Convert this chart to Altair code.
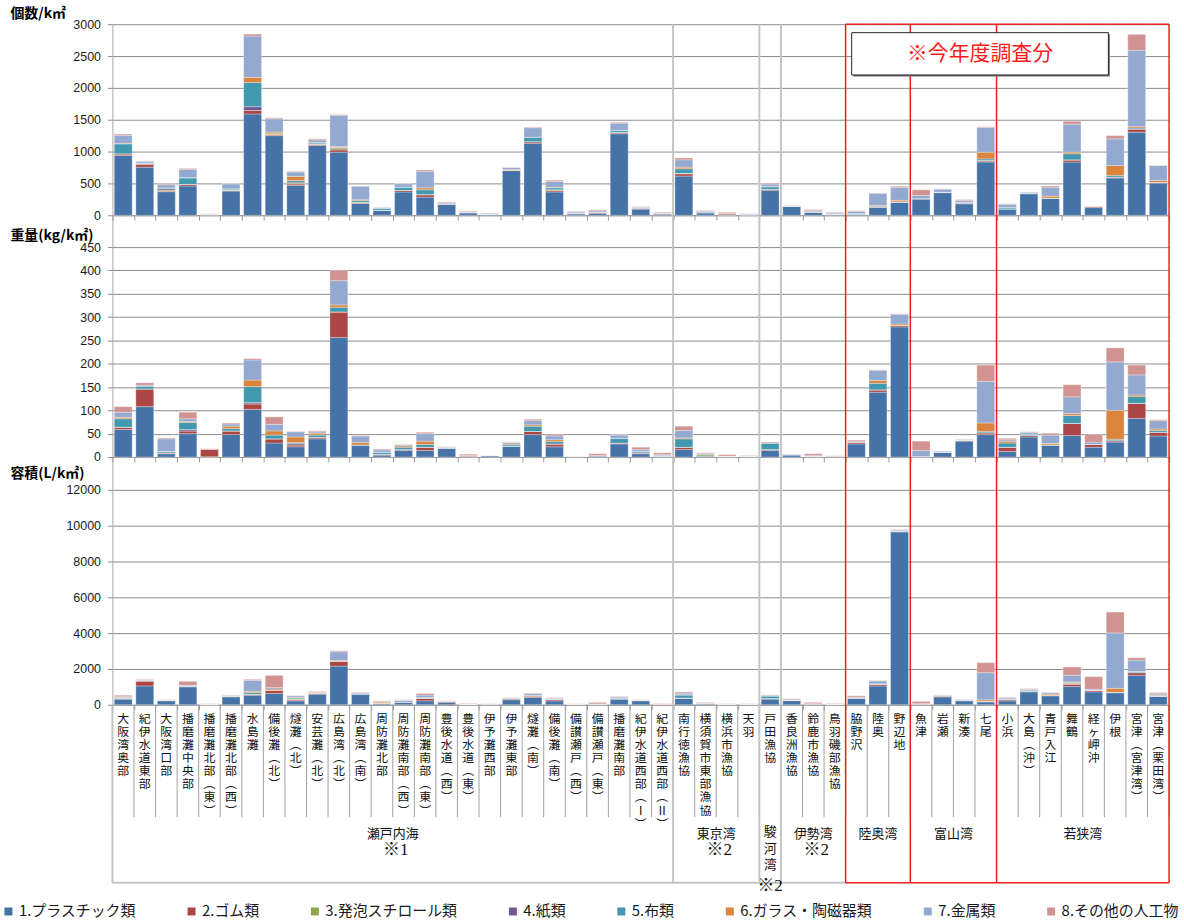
import altair as alt
import pandas as pd

JP = "Noto Sans CJK JP"
NUM = "Liberation Sans"
RED = "#f01c1c"
SEP_GRAY = "#c4c4c4"

# survey sites, left to right
categories = [
    "大阪湾奥部", "紀伊水道東部", "大阪湾口部", "播磨灘中央部", "播磨灘北部(東)", "播磨灘北部(西)",
    "水島灘", "備後灘(北)", "燧灘(北)", "安芸灘(北)", "広島湾(北)", "広島湾(南)", "周防灘北部",
    "周防灘南部(西)", "周防灘南部(東)", "豊後水道(西)", "豊後水道(東)", "伊予灘西部", "伊予灘東部",
    "燧灘(南)", "備後灘(南)", "備讃瀬戸(西)", "備讃瀬戸(東)", "播磨灘南部", "紀伊水道西部(Ⅰ)",
    "紀伊水道西部(Ⅱ)",
    "南行徳漁協", "横須賀市東部漁協", "横浜市漁協", "天羽",
    "戸田漁協",
    "香良洲漁協", "鈴鹿市漁協", "鳥羽磯部漁協",
    "脇野沢", "陸奥", "野辺地",
    "魚津", "岩瀬", "新湊", "七尾",
    "小浜", "大島(沖)", "青戸入江", "舞鶴", "経ヶ岬沖", "伊根", "宮津(宮津湾)", "宮津(栗田湾)",
]

group_names = ["瀬戸内海", "東京湾", "駿河湾", "伊勢湾", "陸奥湾", "富山湾", "若狭湾"]
group_sizes = [26, 4, 1, 3, 3, 4, 8]
group_notes = ["※1", "※2", "※2", "※2", "", "", ""]
group_this_year = [False, False, False, False, True, True, True]

item_types = ["1.プラスチック類", "2.ゴム類", "3.発泡スチロール類", "4.紙類", "5.布類",
              "6.ガラス・陶磁器類", "7.金属類", "8.その他の人工物"]
item_colors = ["#4572A7", "#AA4643", "#89A54E", "#71588F", "#4198AF", "#DB843D", "#93A9CF", "#D19392"]

# 個数 (items / km2)
count_plastic = [940, 755, 370, 460, 5, 380, 1590, 1250, 470, 1095, 990, 185, 75, 365, 285, 170, 40, 15, 705, 1130,
                 365, 20, 30, 1280, 95, 15, 615, 40, 5, 5, 390, 145, 45, 10, 20, 130, 205, 260, 355, 180,
                 835, 100, 340, 270, 835, 120, 585, 1305, 505]
count_rubber = [25, 45, 10, 25, 10, 8, 55, 15, 20, 15, 35, 10, 5, 25, 35, 10, 0, 0, 0, 25,
                20, 10, 20, 15, 15, 15, 35, 0, 20, 5, 15, 0, 0, 10, 0, 0, 5, 0, 5, 10,
                15, 0, 0, 0, 35, 20, 15, 50, 10]
count_styrofoam = [0, 0, 15, 0, 0, 10, 0, 15, 15, 10, 25, 10, 0, 0, 5, 0, 0, 0, 0, 0,
                   15, 0, 0, 10, 0, 0, 10, 0, 0, 0, 0, 0, 0, 0, 0, 0, 0, 0, 0, 0,
                   10, 0, 0, 0, 0, 0, 0, 0, 0]
count_paper = [0, 10, 20, 0, 0, 0, 60, 0, 15, 0, 15, 0, 0, 0, 0, 0, 10, 0, 0, 0,
               0, 0, 0, 0, 0, 0, 0, 0, 0, 0, 0, 0, 0, 0, 0, 0, 0, 0, 0, 15,
               0, 0, 0, 0, 0, 0, 0, 0, 0]
count_cloth = [155, 10, 15, 100, 0, 15, 380, 0, 25, 15, 0, 25, 30, 50, 75, 0, 0, 0, 0, 70,
               30, 0, 0, 30, 15, 0, 70, 15, 0, 0, 40, 0, 10, 0, 5, 10, 0, 0, 0, 0,
               25, 20, 10, 0, 95, 0, 25, 15, 0]
count_glass = [10, 0, 0, 5, 0, 0, 80, 25, 65, 10, 15, 15, 0, 0, 30, 0, 0, 0, 15, 0,
               10, 0, 0, 0, 0, 0, 25, 0, 0, 0, 10, 0, 10, 0, 0, 15, 25, 0, 0, 0,
               105, 0, 0, 30, 25, 0, 155, 20, 30]
count_metal = [125, 20, 50, 130, 0, 80, 650, 210, 70, 40, 485, 210, 10, 55, 260, 20, 10, 15, 30, 150,
               90, 20, 20, 110, 0, 10, 115, 10, 0, 10, 35, 0, 15, 15, 35, 190, 200, 50, 50, 25,
               390, 50, 10, 140, 440, 0, 420, 1200, 235]
count_other = [20, 10, 15, 15, 10, 5, 30, 15, 10, 15, 15, 5, 5, 5, 20, 10, 8, 5, 5, 10,
               20, 10, 15, 15, 10, 10, 30, 10, 20, 5, 15, 5, 10, 10, 10, 5, 20, 90, 5, 15,
               10, 10, 5, 20, 45, 5, 50, 250, 5]

# 重量 (kg / km2)
weight_plastic = [59, 108, 7, 50, 0.5, 48, 102, 30, 22, 39, 256, 26, 4, 14, 14, 19, 1, 3, 23, 48,
                  22, 1, 2, 28, 7, 2, 16, 2, 1, 1, 14, 5, 1, 1, 28, 139, 279, 1, 10, 34,
                  48, 12, 43, 26, 46, 21, 32, 83, 45]
weight_rubber = [5, 38, 2, 6, 17, 8, 12, 9, 4, 3, 55, 0, 2, 2, 7, 0, 2, 0, 0, 7,
                 6, 0.5, 1, 2, 2, 0, 5, 0, 1, 1, 2, 0, 1, 0, 3, 5, 3, 0, 1, 2,
                 4, 9, 3, 0, 26, 6, 3, 32, 8]
weight_styrofoam = [0, 0, 0, 0, 0, 0, 0, 0, 0, 0, 0, 0, 0, 0, 0, 0, 0, 0, 0, 0,
                    0, 0, 0, 0, 0, 0, 0, 3, 0, 0, 0, 0, 0, 0, 0, 0, 0, 0, 0, 0,
                    0, 0, 0, 0, 0, 0, 0, 0, 0]
weight_paper = [0, 0, 0, 3, 0, 0, 3, 0, 3, 0, 0, 0, 0, 0, 0, 0, 0, 0, 0, 0,
                0, 0, 0, 0, 0, 0, 0, 0, 0, 0, 0, 0, 0, 0, 0, 0, 0, 0, 0, 0,
                0, 0, 0, 0, 0, 0, 0, 0, 0]
weight_cloth = [18, 6, 3, 15, 0, 5, 34, 8, 2, 5, 10, 0, 4, 5, 6, 2, 0, 0, 3, 11,
                5, 0, 0, 10, 3, 1, 18, 2, 0, 0, 14, 0, 0, 0, 0, 14, 0, 0, 0, 0,
                3, 9, 3, 0, 17, 0, 3, 15, 4]
weight_glass = [3, 0, 0, 2, 0, 5, 14, 9, 12, 4, 5, 5, 0, 3, 7, 0, 0, 0, 2, 3,
                4, 0, 0, 0, 0, 0, 2, 0, 0, 0, 0, 0, 0, 0, 0, 6, 3, 0, 0, 0,
                18, 4, 0, 3, 4, 0, 62, 3, 3]
weight_metal = [11, 2, 27, 6, 0, 5, 43, 14, 11, 3, 52, 14, 5, 2, 16, 0, 0, 0.5, 3, 9,
                8, 0, 0, 7, 4, 2, 16, 0, 0, 0, 0, 1, 1, 0, 2, 22, 21, 13, 2, 1,
                89, 3, 4, 18, 36, 5, 104, 43, 18]
weight_other = [12, 5, 2, 14, 0.5, 2, 3, 16, 1, 2, 22, 1, 2, 1, 3, 1, 3, 0, 1, 3,
                3, 0.5, 4, 1, 5, 4, 9, 2, 3, 1, 2, 0.5, 4, 1.5, 3, 1, 1, 20, 0, 1,
                35, 3, 1, 4, 26, 16, 30, 21, 2]

# 容積 (L / km2)
volume_plastic = [310, 1050, 220, 1000, 0, 440, 530, 630, 220, 590, 2160, 610, 60, 130, 220, 130, 20, 50, 280, 410,
                  220, 20, 20, 310, 220, 20, 350, 40, 20, 20, 310, 230, 30, 20, 350, 1050, 9650, 20, 440, 220,
                  160, 220, 720, 500, 1015, 720, 680, 1645, 460]
volume_rubber = [30, 280, 20, 20, 40, 30, 60, 180, 50, 50, 280, 0, 40, 30, 130, 50, 20, 0, 40, 80,
                 80, 10, 30, 30, 40, 0, 30, 60, 15, 10, 40, 40, 30, 20, 40, 90, 30, 40, 40, 30,
                 20, 70, 40, 20, 130, 90, 0, 150, 30]
volume_styrofoam = [20, 0, 0, 0, 0, 20, 0, 0, 50, 0, 0, 0, 0, 0, 0, 0, 0, 0, 40, 0,
                    0, 0, 0, 0, 0, 0, 0, 0, 0, 0, 0, 0, 0, 0, 0, 0, 0, 0, 30, 0,
                    0, 0, 0, 0, 30, 0, 0, 0, 0]
volume_paper = [0, 0, 0, 0, 0, 0, 0, 0, 0, 0, 0, 0, 0, 0, 0, 0, 0, 0, 0, 0,
                0, 0, 0, 0, 0, 0, 0, 0, 0, 0, 0, 0, 0, 0, 0, 0, 0, 0, 0, 30,
                0, 0, 0, 0, 30, 0, 0, 0, 0]
volume_cloth = [30, 30, 0, 40, 0, 20, 90, 0, 50, 0, 0, 0, 0, 70, 30, 0, 0, 0, 20, 30,
                20, 0, 0, 40, 0, 0, 160, 0, 0, 0, 140, 0, 0, 0, 0, 30, 0, 0, 0, 0,
                20, 30, 60, 0, 30, 0, 20, 55, 30]
volume_glass = [20, 0, 0, 0, 0, 0, 70, 70, 40, 40, 30, 0, 50, 0, 30, 0, 0, 0, 0, 0,
                20, 0, 0, 0, 0, 0, 20, 0, 0, 0, 0, 0, 0, 0, 0, 0, 0, 0, 0, 0,
                80, 0, 0, 70, 40, 0, 220, 10, 30]
volume_metal = [40, 30, 20, 20, 0, 30, 610, 80, 90, 30, 490, 80, 40, 30, 130, 20, 0, 20, 20, 100,
                40, 10, 0, 50, 0, 0, 90, 0, 0, 10, 20, 50, 0, 0, 40, 160, 60, 0, 30, 0,
                1510, 60, 40, 80, 370, 60, 3090, 635, 70]
volume_other = [80, 30, 20, 230, 15, 10, 60, 680, 10, 30, 55, 10, 30, 20, 90, 20, 30, 0, 10, 30,
                20, 10, 80, 30, 20, 40, 60, 30, 20, 15, 40, 20, 70, 30, 70, 20, 40, 125, 10, 20,
                560, 30, 40, 20, 460, 700, 1165, 130, 60]

count_series = [count_plastic, count_rubber, count_styrofoam, count_paper,
                count_cloth, count_glass, count_metal, count_other]
weight_series = [weight_plastic, weight_rubber, weight_styrofoam, weight_paper,
                 weight_cloth, weight_glass, weight_metal, weight_other]
volume_series = [volume_plastic, volume_rubber, volume_styrofoam, volume_paper,
                 volume_cloth, volume_glass, volume_metal, volume_other]

W = 1062


def long_table(series):
    rows = []
    for t_idx, (t, vals) in enumerate(zip(item_types, series)):
        for c, v in zip(categories, vals):
            rows.append({"area": c, "type": t, "tidx": t_idx, "value": v})
    return pd.DataFrame(rows)


x_scale = alt.Scale(domain=categories, paddingInner=0, paddingOuter=0)
x_axis = alt.Axis(labels=False, title=None, tickBand="extent", tickSize=5, tickColor="#9a9a9a",
                  domainColor="#9a9a9a", grid=False)


def x_band(field="area", band_pos=None):
    kw = dict(scale=x_scale, axis=x_axis, title=None)
    if band_pos is not None:
        kw["bandPosition"] = band_pos
    return alt.X(f"{field}:N", **kw)


legend = alt.Legend(title=None, orient="none", legendX=-112, legendY=884, direction="horizontal",
                    columns=8, columnPadding=48, symbolType="square", symbolSize=64,
                    symbolStrokeWidth=0, labelFont=JP, labelFontSize=15, labelColor="#1a1a1a",
                    labelLimit=300, labelOffset=3)
color_scale = alt.Scale(domain=item_types, range=item_colors)

# group boundaries inside the plot panels
starts = [sum(group_sizes[:i]) for i in range(len(group_sizes))]
edge_rows = []
for i in range(1, len(group_names)):
    red = group_this_year[i] or group_this_year[i - 1]
    edge_rows.append({"area": categories[starts[i]], "kind": "red" if red else "gray"})
edges = pd.DataFrame(edge_rows)
last_edge = pd.DataFrame({"area": [categories[-1]]})
current_areas = pd.DataFrame({"area": [c for g, s, n in zip(group_this_year, starts, group_sizes)
                                       if g for c in categories[s:s + n]]})

gray_lines = alt.Chart(edges).transform_filter("datum.kind == 'gray'").mark_rule(
    color=SEP_GRAY, strokeWidth=2).encode(x=x_band(band_pos=0))
red_lines = alt.Chart(edges).transform_filter("datum.kind == 'red'").mark_rule(
    color=RED, strokeWidth=1.5).encode(x=x_band(band_pos=0))
red_end = alt.Chart(last_edge).mark_rule(color=RED, strokeWidth=1.5).encode(x=x_band(band_pos=1))
red_top = alt.Chart(current_areas).mark_bar(width=alt.RelativeBandSize(1), color=RED).encode(
    x=x_band(), y=alt.value(-0.75), y2=alt.value(0.75))


def panel(series, title, top, ticks, height, title_y, extra=()):
    df = long_table(series)
    y_axis = alt.Axis(values=ticks, title=title, titleAngle=0, titleAlign="left", titleBaseline="middle",
                      titleX=-103, titleY=title_y, titleFont=JP, titleFontSize=14, titleFontWeight="bold",
                      titleColor="#000000", labelFont=NUM, labelFontSize=12.5, labelColor="#1a1a1a",
                      labelPadding=7, tickSize=5, tickColor="#8c8c8c", domainColor="#a6a6a6",
                      grid=True, gridColor="#8c8c8c", gridWidth=1, format="d")
    bars = alt.Chart(df).mark_bar(width=alt.RelativeBandSize(0.83), stroke="white",
                                  strokeWidth=0.5, strokeOpacity=0.6).encode(
        x=x_band(),
        y=alt.Y("value:Q", stack="zero", scale=alt.Scale(domain=[0, top], nice=False, zero=True),
                axis=y_axis),
        color=alt.Color("type:N", scale=color_scale, legend=legend),
        order=alt.Order("tidx:Q", sort="ascending"),
    )
    return alt.layer(bars, gray_lines, red_lines, red_end, *extra).properties(width=W, height=height)


note_df = pd.DataFrame({"text": ["※今年度調査分"]})
box_shadow = alt.Chart(note_df).mark_rect(fill="#6e6e6e").encode(
    x=alt.value(744.5), x2=alt.value(1002.5), y=alt.value(10), y2=alt.value(52.5))
box = alt.Chart(note_df).mark_rect(fill="white", stroke="#262626", strokeWidth=1).encode(
    x=alt.value(743), x2=alt.value(1001), y=alt.value(8.5), y2=alt.value(51))
box_text = alt.Chart(note_df).mark_text(font=JP, fontSize=21, color="#ff1a1a").encode(
    x=alt.value(872), y=alt.value(30), text="text:N")

p_count = panel(count_series, "個数/k㎡", 3000, list(range(0, 3001, 500)), 192, -11,
                extra=(red_top, box_shadow, box, box_text))
p_weight = panel(weight_series, "重量(kg/k㎡)", 450 * 243 / 211, list(range(0, 451, 50)), 243, 20)
p_volume = panel(volume_series, "容積(L/k㎡)", 12000 * 249 / 216, list(range(0, 12001, 2000)), 249, 17)

# site names and sea-area names below the plots
n_cat = len(categories)
xq = alt.Scale(domain=[0, n_cat], nice=False, zero=False)


def vertical(s):
    return "\n".join(s.replace("(", "︵").replace(")", "︶"))


lab_df = pd.DataFrame({"pos": [i + 0.5 for i in range(n_cat)],
                       "label": [vertical(c) for c in categories]})
sep_df = pd.DataFrame({"pos": list(range(n_cat + 1))})
border_rows = []
for i, s in enumerate(starts + [n_cat]):
    left = group_this_year[i - 1] if i > 0 else False
    right = group_this_year[i] if i < len(group_names) else False
    border_rows.append({"pos": s, "kind": "red" if (left or right) else "gray"})
border_df = pd.DataFrame(border_rows)
bottom_df = pd.DataFrame({"x0": starts, "x1": [s + n for s, n in zip(starts, group_sizes)],
                          "kind": ["red" if g else "gray" for g in group_this_year]})
grp_df = pd.DataFrame({"name": group_names,
                       "vname": ["\n".join(g) for g in group_names],
                       "center": [s + n / 2 for s, n in zip(starts, group_sizes)],
                       "note": group_notes,
                       "narrow": [n == 1 for n in group_sizes]})

LAB_H = 179
site_text = alt.Chart(lab_df).mark_text(font=JP, fontSize=12, baseline="top", lineBreak="\n",
                                        lineHeight=13.2, color="#111111").encode(
    x=alt.X("pos:Q", scale=xq, axis=None), y=alt.value(9), text="label:N")
separators = alt.Chart(sep_df).mark_rule(color="#a0a0a0", strokeWidth=1).encode(
    x=alt.X("pos:Q", scale=xq, axis=None), y=alt.value(0), y2=alt.value(113))
borders_gray = alt.Chart(border_df).transform_filter("datum.kind == 'gray'").mark_rule(
    color=SEP_GRAY, strokeWidth=2).encode(
    x=alt.X("pos:Q", scale=xq, axis=None), y=alt.value(0), y2=alt.value(LAB_H))
bottom_gray = alt.Chart(bottom_df).transform_filter("datum.kind == 'gray'").mark_rule(
    color=SEP_GRAY, strokeWidth=2).encode(
    x=alt.X("x0:Q", scale=xq, axis=None), x2="x1:Q", y=alt.value(LAB_H))
borders_red = alt.Chart(border_df).transform_filter("datum.kind == 'red'").mark_rule(
    color=RED, strokeWidth=1.5).encode(
    x=alt.X("pos:Q", scale=xq, axis=None), y=alt.value(0), y2=alt.value(LAB_H))
bottom_red = alt.Chart(bottom_df).transform_filter("datum.kind == 'red'").mark_rule(
    color=RED, strokeWidth=1.5).encode(
    x=alt.X("x0:Q", scale=xq, axis=None), x2="x1:Q", y=alt.value(LAB_H))
grp_text = alt.Chart(grp_df).transform_filter("!datum.narrow").mark_text(
    font=JP, fontSize=13, baseline="middle", color="#111111").encode(
    x=alt.X("center:Q", scale=xq, axis=None), y=alt.value(130), text="name:N")
grp_text_v = alt.Chart(grp_df).transform_filter("datum.narrow").mark_text(
    font=JP, fontSize=13, baseline="top", lineBreak="\n", lineHeight=16.5, color="#111111").encode(
    x=alt.X("center:Q", scale=xq, axis=None), y=alt.value(122), text="vname:N")
note_text = alt.Chart(grp_df).transform_filter("!datum.narrow && datum.note != ''").mark_text(
    font="Liberation Serif, Noto Sans CJK JP", fontSize=17, baseline="middle", dx=3,
    color="#111111").encode(
    x=alt.X("center:Q", scale=xq, axis=None), y=alt.value(146), text="note:N")
note_text_v = alt.Chart(grp_df).transform_filter("datum.narrow && datum.note != ''").mark_text(
    font="Liberation Serif, Noto Sans CJK JP", fontSize=17, baseline="middle",
    color="#111111").encode(
    x=alt.X("center:Q", scale=xq, axis=None), y=alt.value(182), text="note:N")

labels = alt.layer(separators, borders_gray, bottom_gray, borders_red, bottom_red, site_text,
                   grp_text, grp_text_v, note_text, note_text_v).properties(width=W, height=LAB_H)

chart = alt.vconcat(p_count, p_weight, p_volume, labels, spacing=0, bounds="flush").resolve_scale(
    x="independent", y="independent"
).properties(
    padding={"left": 1, "top": 4, "right": 5, "bottom": 0}, background="white"
).configure_view(stroke=None)

chart.save("out.html", embed_options={"renderer": "svg", "actions": False})
